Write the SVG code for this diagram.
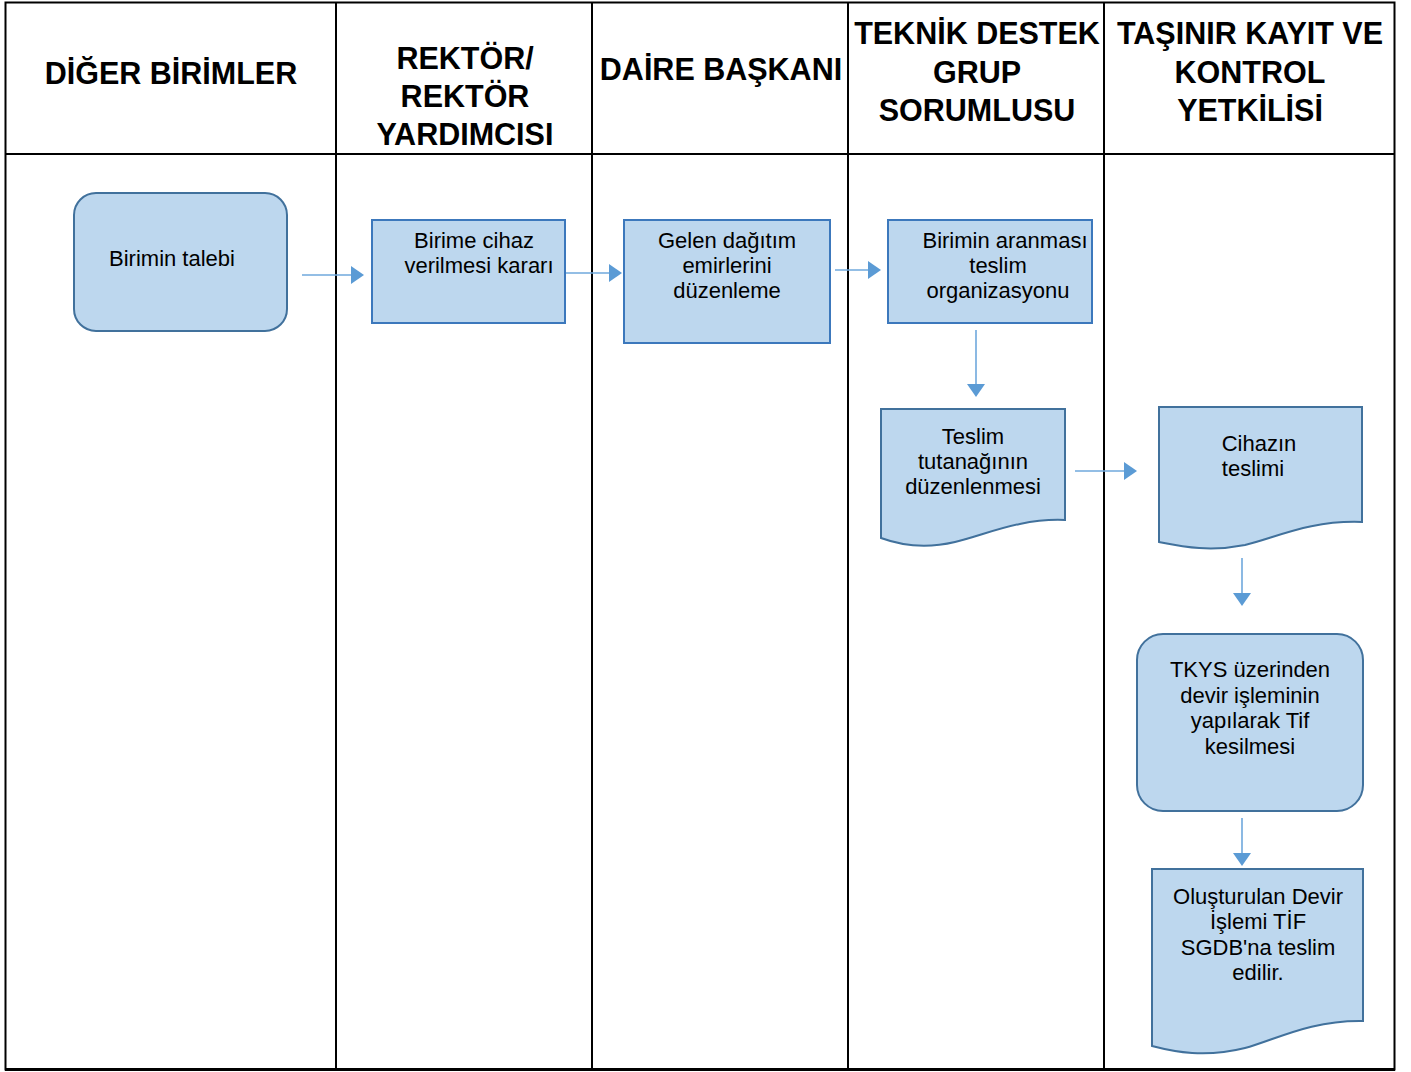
<svg xmlns="http://www.w3.org/2000/svg" width="1411" height="1072" viewBox="0 0 1411 1072">
<style>
.hd{font-family:"Liberation Sans",Arial,sans-serif;font-weight:bold;font-size:30.5px;fill:#000;text-anchor:middle}
.tx{font-family:"Liberation Sans",Arial,sans-serif;font-size:22px;fill:#000;text-anchor:middle}
.nd{fill:#BDD7EE;stroke:#3C78BC;stroke-width:2}
.rn{fill:#BDD7EE;stroke:#41719C;stroke-width:2}
.ln{stroke:#000;stroke-width:2;fill:none}
.cn{stroke:#6FA8DC;stroke-width:1.6;fill:none}
</style>
<defs>
<marker id="ah" markerWidth="14" markerHeight="20" refX="1" refY="10" orient="auto" markerUnits="userSpaceOnUse">
<path d="M1,1 L14,10 L1,19 Z" fill="#5B9BD5"/>
</marker>
</defs>
<rect width="1411" height="1072" fill="#fff"/>
<g id="table">
<rect class="ln" x="5.5" y="2.5" width="1389" height="1067"/>
<line stroke="#000" stroke-width="3" x1="5" y1="1069.5" x2="1395" y2="1069.5"/>
<line class="ln" x1="5" y1="154" x2="1394" y2="154"/>
<line class="ln" x1="336" y1="2" x2="336" y2="1070"/>
<line class="ln" x1="592" y1="2" x2="592" y2="1070"/>
<line class="ln" x1="848" y1="2" x2="848" y2="1070"/>
<line class="ln" x1="1104" y1="2" x2="1104" y2="1070"/>
<text class="hd" x="171" y="84">DİĞER BİRİMLER</text>
<text class="hd" x="465" y="69">REKTÖR/</text>
<text class="hd" x="465" y="107">REKTÖR</text>
<text class="hd" x="465" y="145">YARDIMCISI</text>
<text class="hd" x="721" y="80">DAİRE BAŞKANI</text>
<text class="hd" x="977" y="44">TEKNİK DESTEK</text>
<text class="hd" x="977" y="83">GRUP</text>
<text class="hd" x="977" y="121">SORUMLUSU</text>
<text class="hd" x="1250" y="44">TAŞINIR KAYIT VE</text>
<text class="hd" x="1250" y="83">KONTROL</text>
<text class="hd" x="1250" y="121">YETKİLİSİ</text>
</g>
<g id="connectors">
<line class="cn" x1="302" y1="275" x2="351" y2="275" marker-end="url(#ah)"/>
<line class="cn" x1="560" y1="273" x2="609" y2="273" marker-end="url(#ah)"/>
<line class="cn" x1="835" y1="270" x2="868" y2="270" marker-end="url(#ah)"/>
<line class="cn" x1="976" y1="330" x2="976" y2="384" marker-end="url(#ah)"/>
<line class="cn" x1="1075" y1="471" x2="1124" y2="471" marker-end="url(#ah)"/>
<line class="cn" x1="1242" y1="558" x2="1242" y2="593" marker-end="url(#ah)"/>
<line class="cn" x1="1242" y1="818" x2="1242" y2="853" marker-end="url(#ah)"/>
</g>
<g id="n1">
<rect class="rn" x="74" y="193" width="213" height="138" rx="22"/>
<text class="tx" x="172" y="266">Birimin talebi</text>
</g>
<g id="n2">
<rect class="nd" x="372" y="220" width="193" height="103"/>
<text class="tx"><tspan x="474" y="248">Birime cihaz</tspan><tspan x="479" y="273">verilmesi kararı</tspan></text>
</g>
<g id="n3">
<rect class="nd" x="624" y="220" width="206" height="123"/>
<text class="tx"><tspan x="727" y="248">Gelen dağıtım</tspan><tspan x="727" y="273">emirlerini</tspan><tspan x="727" y="298">düzenleme</tspan></text>
</g>
<g id="n4">
<rect class="nd" x="888" y="220" width="204" height="103"/>
<text class="tx"><tspan x="1005" y="248">Birimin aranması</tspan><tspan x="998" y="273">teslim</tspan><tspan x="998" y="298">organizasyonu</tspan></text>
</g>
<g id="n5">
<path class="rn" d="M881,409 H1065 V520 C1020,518 985,535 955,542 C925,549 900,545 881,538 Z"/>
<text class="tx"><tspan x="973" y="444">Teslim</tspan><tspan x="973" y="469">tutanağının</tspan><tspan x="973" y="494">düzenlenmesi</tspan></text>
</g>
<g id="n6">
<path class="rn" d="M1159,407 H1362 V522 C1310,520 1275,538 1245,545 C1210,552 1185,547 1159,542 Z"/>
<text class="tx"><tspan x="1259" y="451">Cihazın</tspan><tspan x="1253" y="476">teslimi</tspan></text>
</g>
<g id="n7">
<rect class="rn" x="1137" y="634" width="226" height="177" rx="26"/>
<text class="tx"><tspan x="1250" y="677">TKYS üzerinden</tspan><tspan x="1250" y="703">devir işleminin</tspan><tspan x="1250" y="728">yapılarak Tif</tspan><tspan x="1250" y="754">kesilmesi</tspan></text>
</g>
<g id="n8">
<path class="rn" d="M1152,869 H1363 V1021 C1310,1020 1275,1040 1245,1048 C1205,1058 1175,1052 1152,1046 Z"/>
<text class="tx"><tspan x="1258" y="904">Oluşturulan Devir</tspan><tspan x="1258" y="929">İşlemi TİF</tspan><tspan x="1258" y="955">SGDB'na teslim</tspan><tspan x="1258" y="980">edilir.</tspan></text>
</g>
</svg>
